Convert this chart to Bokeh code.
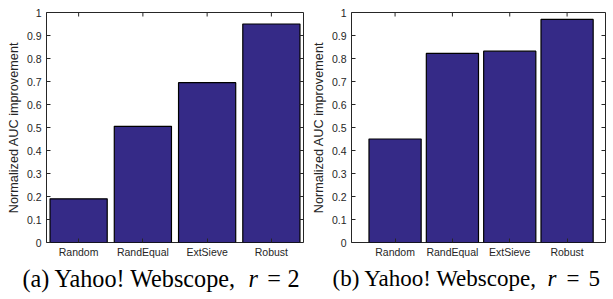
import math
from bokeh.plotting import figure
from bokeh.models import LinearAxis, FixedTicker, Range1d
from bokeh.core.properties import value
from bokeh.layouts import row, column
from bokeh.embed import file_html
from bokeh.resources import INLINE

# ---- data ----
methods = ["Random", "RandEqual", "ExtSieve", "Robust"]
auc_r2 = [0.19, 0.505, 0.695, 0.95]
auc_r5 = [0.45, 0.822, 0.832, 0.97]
y_ticks = [0, 0.1, 0.2, 0.3, 0.4, 0.5, 0.6, 0.7, 0.8, 0.9, 1]
y_tick_labels = ["0", "0.1", "0.2", "0.3", "0.4", "0.5", "0.6", "0.7", "0.8", "0.9", "1"]
y_label = "Normalized AUC improvement"
caption_a = ["(a) Yahoo! Webscope,", "r", "=", "2"]
caption_b = ["(b) Yahoo! Webscope,", "r", "=", "5"]

BAR = "#352a87"
AX = "#262626"
SANS = "Liberation Sans"
SERIF = "Liberation Serif"


def panel(values, width, borders, xr, bar_w):
    left, right, top, bottom = borders
    xs = list(range(1, len(methods) + 1))
    p = figure(width=width, height=260, output_backend="svg", toolbar_location=None,
               x_range=Range1d(*xr), y_range=Range1d(0, 1),
               min_border_left=left, min_border_right=right,
               min_border_top=top, min_border_bottom=bottom,
               x_axis_location=None, y_axis_location=None)
    p.grid.visible = False
    p.outline_line_color = AX
    p.outline_line_width = 1
    p.background_fill_color = "white"
    p.border_fill_color = "white"

    p.vbar(x=xs, top=values, width=bar_w, bottom=0,
           fill_color=BAR, line_color="black", line_width=1.2)

    xticks = FixedTicker(ticks=xs)
    yticks = FixedTicker(ticks=y_ticks)
    xover = {x: m for x, m in zip(xs, methods)}
    yover = {t: s for t, s in zip(y_ticks, y_tick_labels)}

    def style(ax):
        ax.axis_line_color = None
        ax.major_tick_line_color = AX
        ax.major_tick_in = 4
        ax.major_tick_out = 0
        ax.minor_tick_line_color = None
        ax.major_label_text_font = SANS
        ax.major_label_text_font_size = "10.5px"
        ax.major_label_text_color = AX

    xb = LinearAxis(ticker=xticks, major_label_overrides=xover)
    style(xb)
    xb.major_label_standoff = 3
    p.add_layout(xb, "below")

    yl = LinearAxis(ticker=yticks, major_label_overrides=yover,
                    axis_label=y_label)
    style(yl)
    yl.major_label_standoff = 5
    yl.axis_label_standoff = 3
    yl.axis_label_text_font = SANS
    yl.axis_label_text_font_size = "12.7px"
    yl.axis_label_text_font_style = "normal"
    yl.axis_label_text_color = AX
    p.add_layout(yl, "left")

    # mirrored inward ticks on the top and right edges of the box
    p.ray(x=[xr[1]] * len(y_ticks), y=y_ticks, length=4, length_units="screen",
          angle=math.pi, line_color=AX, line_width=1)
    p.ray(x=xs, y=[1] * len(xs), length=4, length_units="screen",
          angle=-math.pi / 2, line_color=AX, line_width=1)
    return p


pa = panel(auc_r2, 306, (46, 3, 8, 17), (0.5, 4.5), 0.89)
pb = panel(auc_r5, 307, (45, 8, 12, 15), (0.24, 4.67), 0.91)

# ---- caption strip (pixel coordinates, y downwards) ----
CAP_W, CAP_H = 613, 39
cap = figure(width=CAP_W, height=CAP_H, output_backend="svg", toolbar_location=None,
             x_range=Range1d(0, CAP_W), y_range=Range1d(CAP_H, 0),
             min_border=0, x_axis_location=None, y_axis_location=None)
cap.grid.visible = False
cap.outline_line_color = None
cap.background_fill_color = "white"
cap.border_fill_color = "white"

baseline_y = 18
for parts, xpos, fsize in ((caption_a, (22, 248, 273.5, 287), "24.2px"),
                           (caption_b, (332, 547, 572.5, 588), "23px")):
    main, rr, eq, num = parts
    common = dict(y=[baseline_y], text_font=value(SERIF), text_font_size=fsize,
                  text_color="black", text_baseline="alphabetic")
    cap.text(x=[xpos[0]], text=[main], text_align="left", **common)
    cap.text(x=[xpos[1]], text=[rr], text_align="left", text_font_style="italic", **common)
    cap.text(x=[xpos[2]], text=[eq], text_align="center", **common)
    cap.text(x=[xpos[3]], text=[num], text_align="left", **common)

layout = column(row(pa, pb, spacing=0), cap, spacing=0)
open("out.html", "w").write(file_html(layout, INLINE))
